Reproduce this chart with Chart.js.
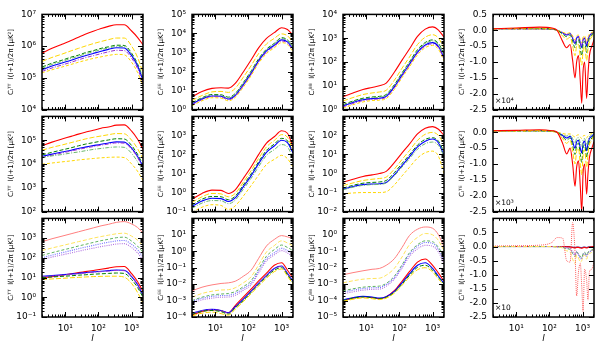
<!DOCTYPE html>
<html>
<head>
<meta charset="utf-8">
<script src="https://cdn.jsdelivr.net/npm/chart.js@4.4.0/dist/chart.umd.min.js"></script>
<style>
  body { margin: 0; background: #fff; width: 600px; height: 350px; overflow: hidden; position: relative; }
  canvas { position: absolute; }
</style>
</head>
<body>
<script>
// multipoles
const ell = [2, 4, 8, 15, 25, 40, 70, 120, 200, 350, 600, 1000, 1500, 2200];
const ellTE = [2, 10, 50, 120, 170, 250, 330, 420, 500, 590, 660, 750, 850, 940, 1030, 1150, 1320, 1450, 1600, 1900, 2200];

// row 1
const tt1Red = [6.0e5, 8.5e5, 1.15e6, 1.5e6, 1.9e6, 2.35e6, 2.95e6, 3.6e6, 4.2e6, 4.7e6, 4.7e6, 3.0e6, 1.9e6, 1.1e6];
const tt1Gold = [3.3e5, 4.4e5, 5.6e5, 7.1e5, 8.5e5, 1.0e6, 1.2e6, 1.4e6, 1.6e6, 1.8e6, 1.8e6, 1.0e6, 4.5e5, 1.45e5];
const tt1Green = [2.2e5, 2.9e5, 3.6e5, 4.5e5, 5.2e5, 6.2e5, 7.2e5, 8.5e5, 9.5e5, 1.07e6, 1.05e6, 6.0e5, 2.8e5, 1.0e5];
const tt1LGreen = [2.0e5, 2.65e5, 3.3e5, 4.1e5, 4.8e5, 5.7e5, 6.6e5, 7.8e5, 8.7e5, 9.8e5, 9.6e5, 5.5e5, 2.6e5, 9.5e4];
const tt1Blue = [1.8e5, 2.35e5, 2.95e5, 3.6e5, 4.3e5, 5.0e5, 5.9e5, 6.9e5, 7.9e5, 8.9e5, 8.7e5, 5.0e5, 2.4e5, 8.3e4];
const tt1Purple = [1.6e5, 2.05e5, 2.55e5, 3.1e5, 3.7e5, 4.3e5, 5.0e5, 5.8e5, 6.6e5, 7.4e5, 7.2e5, 4.2e5, 2.0e5, 7.0e4];
const tt1Gold2 = [1.45e5, 1.8e5, 2.2e5, 2.65e5, 3.1e5, 3.55e5, 4.1e5, 4.6e5, 5.1e5, 5.5e5, 5.3e5, 3.1e5, 1.5e5, 5.6e4];

const ee1Red = [4.7, 9, 13, 14, 13.5, 24, 95, 400, 1700, 5500, 1.1e4, 2e4, 1.6e4, 8e3];
const ee1Gold = [3.0, 5.5, 8.5, 9, 8, 13, 50, 200, 850, 2800, 5500, 9.5e3, 7.5e3, 3.5e3];
const ee1Green = [2.3, 4.2, 6.2, 6.0, 4.5, 7, 26, 105, 450, 1500, 3000, 6000, 4600, 2000];
const ee1LGreen = [2.1, 3.9, 5.7, 5.5, 4.1, 6.4, 24, 95, 410, 1350, 2700, 5400, 4100, 1800];
const ee1Blue = [2.0, 3.6, 5.2, 5.0, 3.6, 5.5, 20, 80, 350, 1200, 2400, 4600, 3600, 1500];
const ee1Purple = [1.8, 3.3, 4.8, 4.6, 3.3, 5, 18, 70, 310, 1050, 2100, 4000, 3100, 1300];
const ee1Gold2 = [1.6, 2.9, 4.2, 4.0, 2.9, 4.4, 15, 60, 260, 880, 1750, 3300, 2600, 1100];

const bb1Red = [3.5, 5, 7, 8.5, 10, 13, 37, 120, 350, 1200, 2400, 3000, 2200, 1100];
const bb1Gold = [2.3, 3.2, 4.3, 5, 5.5, 6.5, 17, 55, 160, 540, 1100, 1400, 1000, 380];
const bb1Green = [1.6, 2.3, 3.0, 3.4, 3.6, 4.3, 11, 35, 100, 330, 660, 850, 600, 220];
const bb1LGreen = [1.5, 2.15, 2.8, 3.15, 3.3, 4.0, 10, 32, 92, 300, 600, 770, 540, 190];
const bb1Blue = [1.4, 2.0, 2.6, 2.9, 3.0, 3.6, 9, 28, 80, 260, 520, 650, 450, 150];
const bb1Purple = [1.3, 1.8, 2.4, 2.7, 2.8, 3.3, 8, 25, 72, 235, 470, 580, 400, 130];
const bb1Gold2 = [1.15, 1.6, 2.1, 2.4, 2.5, 2.9, 7, 22, 62, 200, 400, 500, 340, 110];

const te1Red = [0.05, 0.07, 0.1, 0.07, 0.0, -0.35, -0.55, -0.45, -0.95, -1.5, -1.0, -0.8, -1.6, -2.3, -1.3, -1.0, -2.15, -1.4, -0.8, -0.5, -0.3];
const te1Gold = [0.05, 0.06, 0.07, 0.05, 0.0, -0.18, -0.28, -0.22, -0.5, -0.8, -0.5, -0.45, -0.85, -1.1, -0.65, -0.5, -0.95, -0.6, -0.35, -0.2, -0.07];
const te1Green = [0.05, 0.05, 0.05, 0.04, 0.0, -0.12, -0.2, -0.15, -0.35, -0.55, -0.35, -0.3, -0.6, -0.8, -0.45, -0.35, -0.7, -0.45, -0.25, -0.15, -0.05];
const te1Blue = [0.05, 0.05, 0.05, 0.04, 0.0, -0.08, -0.15, -0.1, -0.25, -0.42, -0.25, -0.2, -0.4, -0.55, -0.3, -0.25, -0.5, -0.3, -0.18, -0.1, -0.05];
const te1Purple = [0.04, 0.04, 0.04, 0.03, 0.0, -0.07, -0.13, -0.09, -0.22, -0.38, -0.22, -0.18, -0.36, -0.5, -0.27, -0.22, -0.45, -0.27, -0.16, -0.09, -0.04];
const te1Gold2 = [0.04, 0.04, 0.04, 0.03, 0.0, -0.06, -0.1, -0.08, -0.18, -0.3, -0.18, -0.15, -0.3, -0.4, -0.22, -0.18, -0.35, -0.22, -0.12, -0.07, -0.03];

// row 2
const tt2Red = [5.9e4, 8.3e4, 1.12e5, 1.45e5, 1.8e5, 2.15e5, 2.6e5, 3.2e5, 3.6e5, 4.3e5, 4.4e5, 2.4e5, 1.12e5, 4.2e4];
const tt2Gold = [3.8e4, 5.0e4, 6.3e4, 7.9e4, 9.5e4, 1.12e5, 1.32e5, 1.5e5, 1.7e5, 1.9e5, 1.86e5, 1.0e5, 4.5e4, 1.66e4];
const tt2Green = [2.4e4, 3.1e4, 3.9e4, 4.8e4, 5.8e4, 6.8e4, 7.9e4, 9.1e4, 1.02e5, 1.15e5, 1.12e5, 6.0e4, 2.6e4, 9.1e3];
const tt2Blue = [2.1e4, 2.6e4, 3.2e4, 3.8e4, 4.5e4, 5.1e4, 5.9e4, 6.8e4, 7.6e4, 8.5e4, 8.3e4, 4.6e4, 2.1e4, 7.9e3];
const tt2Purple = [1.9e4, 2.35e4, 2.9e4, 3.5e4, 4.1e4, 4.7e4, 5.4e4, 6.2e4, 6.9e4, 7.7e4, 7.5e4, 4.2e4, 1.9e4, 7.0e3];
const tt2LGreen = [1.9e4, 2.2e4, 2.5e4, 2.9e4, 3.2e4, 3.6e4, 4.1e4, 4.5e4, 4.9e4, 5.2e4, 5.0e4, 2.8e4, 1.26e4, 5.0e3];
const tt2Gold2 = [9.8e3, 1.1e4, 1.23e4, 1.35e4, 1.48e4, 1.58e4, 1.7e4, 1.82e4, 1.9e4, 1.95e4, 1.86e4, 1.0e4, 5.0e3, 2.0e3];

const ee2Red = [0.44, 0.9, 1.35, 1.3, 0.9, 1.4, 5.5, 22, 95, 400, 850, 1750, 1300, 250];
const ee2Gold = [0.3, 0.6, 0.9, 0.85, 0.6, 0.9, 3.5, 14, 60, 250, 540, 1100, 800, 160];
const ee2Green = [0.22, 0.45, 0.62, 0.6, 0.42, 0.65, 2.5, 9.5, 40, 165, 350, 700, 520, 130];
const ee2Blue = [0.19, 0.36, 0.5, 0.48, 0.34, 0.52, 2, 7.5, 32, 130, 280, 560, 420, 120];
const ee2LGreen = [0.15, 0.28, 0.38, 0.37, 0.26, 0.4, 1.5, 5.5, 22, 90, 180, 330, 250, 70];
const ee2Gold2 = [0.09, 0.17, 0.23, 0.21, 0.13, 0.2, 0.65, 2.3, 8, 30, 55, 90, 60, 22];

const bb2Red = [0.35, 0.5, 0.7, 0.85, 1.0, 1.3, 3.7, 12, 35, 120, 240, 290, 210, 100];
const bb2Gold = [0.23, 0.32, 0.43, 0.5, 0.55, 0.65, 1.7, 5.5, 16, 55, 115, 145, 100, 35];
const bb2Green = [0.17, 0.24, 0.31, 0.34, 0.36, 0.43, 1.1, 3.4, 9.5, 31, 62, 76, 50, 14];
const bb2Blue = [0.15, 0.21, 0.26, 0.28, 0.29, 0.34, 0.85, 2.6, 7.5, 25, 50, 65, 40, 9];
const bb2LGreen = [0.14, 0.19, 0.24, 0.26, 0.27, 0.32, 0.75, 2.2, 6, 19, 37, 45, 30, 8];
const bb2Gold2 = [0.087, 0.095, 0.1, 0.1, 0.1, 0.11, 0.25, 0.75, 2.1, 6.5, 12.5, 15, 8, 1.0];

const te2Red = [0.05, 0.06, 0.08, 0.05, 0.0, -0.35, -0.68, -0.5, -1.0, -1.7, -1.1, -0.9, -1.7, -2.5, -1.3, -1.0, -1.95, -1.3, -0.8, -0.5, -0.3];
const te2Gold = [0.05, 0.05, 0.06, 0.04, 0.0, -0.2, -0.35, -0.25, -0.6, -1.0, -0.6, -0.5, -1.0, -1.35, -0.75, -0.55, -1.1, -0.7, -0.4, -0.25, -0.1];
const te2Green = [0.05, 0.05, 0.05, 0.04, 0.0, -0.14, -0.25, -0.18, -0.42, -0.7, -0.42, -0.35, -0.7, -0.95, -0.5, -0.4, -0.8, -0.5, -0.3, -0.18, -0.07];
const te2Blue = [0.05, 0.05, 0.05, 0.04, 0.0, -0.1, -0.18, -0.13, -0.3, -0.5, -0.3, -0.25, -0.5, -0.65, -0.35, -0.28, -0.58, -0.35, -0.2, -0.12, -0.05];
const te2LGreen = [0.04, 0.04, 0.04, 0.03, 0.0, -0.07, -0.12, -0.09, -0.2, -0.34, -0.2, -0.17, -0.34, -0.45, -0.25, -0.2, -0.4, -0.25, -0.14, -0.08, -0.03];
const te2Gold2 = [0.03, 0.03, 0.03, 0.02, 0.0, -0.04, -0.06, -0.05, -0.1, -0.15, -0.1, -0.08, -0.15, -0.2, -0.12, -0.1, -0.18, -0.12, -0.07, -0.04, -0.02];

// row 3 (upper, lighter group and lower group)
const tt3Pink = [660, 930, 1260, 1660, 2090, 2570, 3300, 4200, 5000, 6300, 6900, 5200, 3500, 1800];
const tt3LGold = [235, 316, 417, 537, 661, 794, 1000, 1200, 1410, 1660, 1780, 1260, 794, 407];
const tt3LGreen = [132, 182, 245, 316, 398, 479, 603, 741, 871, 1050, 1120, 708, 398, 191];
const tt3LBlue = [100, 138, 182, 234, 288, 347, 427, 525, 617, 724, 759, 479, 263, 110];
const tt3LPurple = [81, 110, 141, 178, 214, 257, 309, 372, 427, 501, 525, 331, 182, 76];
const tt3Red = [9.5, 11.2, 13.2, 15.5, 17.8, 20, 23, 26.3, 30.2, 35.5, 36.3, 15.8, 6.3, 2.0];
const tt3Blue = [11.5, 12.6, 13.8, 15.1, 16.6, 17.8, 19.5, 20.9, 22.4, 24, 23.4, 11.2, 4.5, 1.26];
const tt3Purple = [11, 12, 13.2, 14.5, 15.8, 17, 18.6, 20, 21.4, 23, 22.4, 10.7, 4.3, 1.2];
const tt3Green = [10, 10.7, 11.5, 12.3, 13.2, 13.8, 14.8, 15.5, 16.2, 17, 16.2, 7.9, 3.2, 1.0];
const tt3Gold = [7.9, 8.5, 9.1, 9.8, 10.2, 10.7, 11.2, 11.5, 11.7, 11.7, 10.5, 5.0, 1.8, 0.5];

const ee3Pink = [3.9e-3, 6.5e-3, 9e-3, 1.1e-2, 1.2e-2, 1.5e-2, 3e-2, 7e-2, 0.35, 2.1, 5.2, 9, 7.5, 6];
const ee3LGold = [1.6e-3, 2.7e-3, 3.7e-3, 4.4e-3, 4.6e-3, 6e-3, 1.2e-2, 2.8e-2, 0.14, 0.9, 2.2, 4.3, 3.2, 2.1];
const ee3LGreen = [1e-3, 1.6e-3, 2.2e-3, 2.5e-3, 2.7e-3, 3.5e-3, 7e-3, 1.6e-2, 0.08, 0.5, 1.25, 2.4, 1.7, 1.1];
const ee3LBlue = [9e-4, 1.35e-3, 1.8e-3, 2.0e-3, 2.1e-3, 2.7e-3, 5.5e-3, 1.2e-2, 0.06, 0.35, 0.8, 1.5, 1.1, 0.7];
const ee3LPurple = [7e-4, 1.1e-3, 1.4e-3, 1.6e-3, 1.65e-3, 2.1e-3, 4.2e-3, 9e-3, 0.045, 0.26, 0.6, 1.1, 0.8, 0.45];
const ee3Red = [1.3e-4, 2.2e-4, 2.8e-4, 2.4e-4, 1.8e-4, 5e-4, 1.6e-3, 5e-3, 1.5e-2, 4.7e-2, 0.14, 0.2, 0.07, 0.023];
const ee3Blue = [1.65e-4, 2.5e-4, 2.9e-4, 2.5e-4, 1.8e-4, 4.2e-4, 1.2e-3, 3.7e-3, 1.1e-2, 3.4e-2, 0.09, 0.126, 0.045, 0.015];
const ee3Purple = [1.6e-4, 2.4e-4, 2.8e-4, 2.4e-4, 1.7e-4, 4e-4, 1.15e-3, 3.5e-3, 1.05e-2, 3.2e-2, 0.085, 0.12, 0.043, 0.014];
const ee3Green = [1.45e-4, 2.2e-4, 2.5e-4, 2.1e-4, 1.5e-4, 3.6e-4, 1.0e-3, 3.1e-3, 9e-3, 2.8e-2, 0.07, 0.1, 0.037, 0.012];
const ee3Gold = [1.15e-4, 1.7e-4, 2.0e-4, 1.6e-4, 1.3e-4, 3e-4, 8.5e-4, 2.6e-3, 7.5e-3, 2.3e-2, 0.057, 0.083, 0.03, 0.01];

const bb3Pink = [3.7e-3, 5e-3, 6.5e-3, 8e-3, 9e-3, 1.4e-2, 3.5e-2, 0.17, 0.9, 2.2, 3, 2.5, 1.0, 0.18];
const bb3LGold = [1.2e-3, 1.6e-3, 2.0e-3, 2.2e-3, 2.3e-3, 3.5e-3, 9e-3, 4.5e-2, 0.25, 0.7, 1.2, 1.0, 0.45, 0.11];
const bb3LGreen = [3.9e-4, 5.2e-4, 6.5e-4, 7.2e-4, 7.6e-4, 1.1e-3, 3e-3, 1.5e-2, 8e-2, 0.25, 0.43, 0.38, 0.17, 0.045];
const bb3LBlue = [3.2e-4, 4.3e-4, 5.4e-4, 6e-4, 6.3e-4, 9.5e-4, 2.5e-3, 1.2e-2, 6.5e-2, 0.2, 0.34, 0.3, 0.13, 0.028];
const bb3LPurple = [2.5e-4, 3.4e-4, 4.3e-4, 4.8e-4, 5e-4, 7.5e-4, 2e-3, 9.5e-3, 4.8e-2, 0.14, 0.23, 0.2, 0.09, 0.018];
const bb3Red = [1e-4, 1.4e-4, 1.7e-4, 1.55e-4, 1.3e-4, 1.7e-4, 4e-4, 1.5e-3, 5.7e-3, 2.2e-2, 3.4e-2, 1.4e-2, 4.7e-3, 1.5e-3];
const bb3Blue = [1.1e-4, 1.5e-4, 1.8e-4, 1.65e-4, 1.4e-4, 1.7e-4, 3.6e-4, 1.2e-3, 4.2e-3, 1.4e-2, 2e-2, 9e-3, 3e-3, 1.1e-3];
const bb3Green = [1.0e-4, 1.4e-4, 1.65e-4, 1.5e-4, 1.3e-4, 1.55e-4, 3.2e-4, 1.0e-3, 3.4e-3, 1.05e-2, 1.4e-2, 7e-3, 2.5e-3, 1.0e-3];
const bb3Gold = [9e-5, 1.2e-4, 1.45e-4, 1.3e-4, 1.15e-4, 1.4e-4, 2.8e-4, 8.5e-4, 2.7e-3, 7.5e-3, 1e-2, 5.5e-3, 2e-3, 9e-4];

const te3Pink = [0.02, 0.03, 0.05, 0.15, 0.32, 0.3, -0.5, -0.55, 0.85, -0.2, -1.75, -0.9, -0.6, -1.4, -2.3, -0.8, -1.2, -1.9, -0.9, -0.8, -0.55];
const te3LGold = [0.0, 0.0, 0.0, 0.0, -0.02, -0.05, -0.15, -0.2, -0.45, -0.6, -0.3, -0.4, -0.55, -0.5, -0.35, -0.3, -0.45, -0.3, -0.25, -0.2, -0.1];
const te3LGreen = [0, 0, 0, 0, -0.01, -0.03, -0.08, -0.1, -0.25, -0.35, -0.2, -0.25, -0.35, -0.4, -0.25, -0.2, -0.3, -0.2, -0.15, -0.12, -0.05];
const te3LBlue = [0, 0, 0, 0, -0.01, -0.02, -0.05, -0.08, -0.2, -0.3, -0.18, -0.3, -0.4, -0.45, -0.3, -0.25, -0.35, -0.25, -0.2, -0.15, -0.08];
const te3LPurple = [0, 0, 0, 0, -0.01, -0.02, -0.05, -0.07, -0.18, -0.28, -0.17, -0.28, -0.38, -0.42, -0.28, -0.23, -0.32, -0.23, -0.18, -0.14, -0.07];
const te3Red = [0, 0, 0, 0, 0, 0, -0.01, -0.01, -0.03, -0.05, -0.03, -0.03, -0.05, -0.06, -0.04, -0.03, -0.05, -0.03, -0.02, -0.01, 0];
const te3Navy = [0, 0, 0, 0, 0, 0, 0, -0.01, -0.02, -0.03, -0.02, -0.02, -0.03, -0.04, -0.02, -0.02, -0.03, -0.02, -0.01, -0.01, 0];

const yTitles = ['Cₗᵀᵀ  l(l+1)/2π [μK²]', 'Cₗᴱᴱ  l(l+1)/2π [μK²]', 'Cₗᴮᴮ  l(l+1)/2π [μK²]', 'Cₗᵀᴱ  l(l+1)/2π [μK²]'];
const teNotes = ['×10⁴', '×10³', '×10'];

const styles = {
  red:     { c: '#ff0000', d: [], w: 1.1 },
  gold:    { c: '#ffd700', d: [5, 2], w: 1 },
  green:   { c: '#008000', d: [4, 2], w: 1 },
  lgreen:  { c: '#6cb86c', d: [4, 1.5, 1, 1.5], w: 1 },
  blue:    { c: '#0000ff', d: [], w: 1.1 },
  purple:  { c: '#9a32cd', d: [4, 1.5, 1, 1.5], w: 1 },
  gold2:   { c: '#ffd700', d: [3, 2], w: 1 },
  pink:    { c: '#ff7f7f', d: [], w: 1 },
  pinkDot: { c: '#ff6060', d: [1, 1], w: 1 },
  lgold:   { c: '#ffe45c', d: [4, 2], w: 1 },
  lgreen2: { c: '#5fb35f', d: [3, 2], w: 1 },
  lblue:   { c: '#6f6fff', d: [1, 1.2], w: 1.1 },
  lpurple: { c: '#b070e0', d: [1, 1.2], w: 1.1 },
  navy:    { c: '#000080', d: [], w: 1 }
};

const panels = [
  { row: 0, col: 0, min: 1e4, max: 1e7, x: ell, s: [[tt1Gold2, 'gold2'], [tt1Purple, 'purple'], [tt1Blue, 'blue'], [tt1LGreen, 'lgreen'], [tt1Green, 'green'], [tt1Gold, 'gold'], [tt1Red, 'red']] },
  { row: 0, col: 1, min: 1e0, max: 1e5, x: ell, s: [[ee1Gold2, 'gold2'], [ee1Purple, 'purple'], [ee1Blue, 'blue'], [ee1LGreen, 'lgreen'], [ee1Green, 'green'], [ee1Gold, 'gold'], [ee1Red, 'red']] },
  { row: 0, col: 2, min: 1e0, max: 1e4, x: ell, s: [[bb1Gold2, 'gold2'], [bb1Purple, 'purple'], [bb1Blue, 'blue'], [bb1LGreen, 'lgreen'], [bb1Green, 'green'], [bb1Gold, 'gold'], [bb1Red, 'red']] },
  { row: 0, col: 3, min: -2.5, max: 0.5, x: ellTE, s: [[te1Red, 'red'], [te1Gold, 'gold'], [te1Green, 'green'], [te1Gold2, 'gold2'], [te1Purple, 'purple'], [te1Blue, 'blue']] },
  { row: 1, col: 0, min: 1e2, max: 1e6, x: ell, s: [[tt2Gold2, 'gold2'], [tt2LGreen, 'lgreen'], [tt2Purple, 'purple'], [tt2Blue, 'blue'], [tt2Green, 'green'], [tt2Gold, 'gold'], [tt2Red, 'red']] },
  { row: 1, col: 1, min: 1e-1, max: 1e4, x: ell, s: [[ee2Gold2, 'gold2'], [ee2LGreen, 'lgreen'], [ee2Blue, 'blue'], [ee2Green, 'green'], [ee2Gold, 'gold'], [ee2Red, 'red']] },
  { row: 1, col: 2, min: 1e-2, max: 1e3, x: ell, s: [[bb2Gold2, 'gold2'], [bb2LGreen, 'lgreen'], [bb2Blue, 'blue'], [bb2Green, 'green'], [bb2Gold, 'gold'], [bb2Red, 'red']] },
  { row: 1, col: 3, min: -2.5, max: 0.5, x: ellTE, s: [[te2Red, 'red'], [te2Gold, 'gold'], [te2Green, 'green'], [te2LGreen, 'lgreen'], [te2Gold2, 'gold2'], [te2Blue, 'blue']] },
  { row: 2, col: 0, min: 1e-1, max: 1e4, x: ell, s: [[tt3LPurple, 'lpurple'], [tt3LBlue, 'lblue'], [tt3LGreen, 'lgreen2'], [tt3LGold, 'lgold'], [tt3Pink, 'pink'], [tt3Gold, 'gold'], [tt3Green, 'green'], [tt3Purple, 'purple'], [tt3Blue, 'blue'], [tt3Red, 'red']] },
  { row: 2, col: 1, min: 1e-4, max: 1e2, x: ell, s: [[ee3LPurple, 'lpurple'], [ee3LBlue, 'lblue'], [ee3LGreen, 'lgreen2'], [ee3LGold, 'lgold'], [ee3Pink, 'pink'], [ee3Gold, 'gold'], [ee3Green, 'green'], [ee3Purple, 'purple'], [ee3Blue, 'blue'], [ee3Red, 'red']] },
  { row: 2, col: 2, min: 1e-5, max: 1e1, x: ell, s: [[bb3LPurple, 'lpurple'], [bb3LBlue, 'lblue'], [bb3LGreen, 'lgreen2'], [bb3LGold, 'lgold'], [bb3Pink, 'pink'], [bb3Gold, 'gold'], [bb3Green, 'green'], [bb3Blue, 'blue'], [bb3Red, 'red']] },
  { row: 2, col: 3, min: -2.5, max: 1.0, x: ellTE, s: [[te3Pink, 'pinkDot'], [te3LGold, 'lgold'], [te3LGreen, 'lgreen2'], [te3LPurple, 'lpurple'], [te3LBlue, 'lblue'], [te3Red, 'red'], [te3Navy, 'navy']] }
];

const colX = [42, 192, 343, 493];
const rowY = [11, 113, 215];
const PW = 101, PH = 102;
const FONT = 'DejaVu Sans';

function sup(n) {
  const m = { '-': '⁻', '0': '⁰', '1': '¹', '2': '²', '3': '³', '4': '⁴', '5': '⁵', '6': '⁶', '7': '⁷', '8': '⁸', '9': '⁹' };
  return String(n).split('').map(c => m[c]).join('');
}

function decades(lo, hi) {
  const out = [];
  for (let e = Math.round(Math.log10(lo)); e <= Math.round(Math.log10(hi)); e++) out.push(Math.pow(10, e));
  return out;
}

function logMarks(lo, hi) {
  const out = [];
  for (let e = Math.floor(Math.log10(lo)); e <= Math.ceil(Math.log10(hi)); e++) {
    for (let m = 1; m < 10; m++) {
      const v = m * Math.pow(10, e);
      if (v >= lo * 0.999 && v <= hi * 1.001) out.push([v, m === 1 ? 5 : 2.5]);
    }
  }
  return out;
}

// matplotlib-like frame with inward ticks on all four sides
const frame = {
  id: 'frame',
  afterDatasetsDraw(chart, args, opts) {
    const { ctx, chartArea: a } = chart;
    const sx = chart.scales.x, sy = chart.scales.y;
    ctx.save();
    ctx.strokeStyle = '#000';
    ctx.lineWidth = 1;
    ctx.beginPath();
    for (const [v, len] of logMarks(sx.min, sx.max)) {
      const px = Math.round(sx.getPixelForValue(v)) + 0.5;
      ctx.moveTo(px, a.bottom); ctx.lineTo(px, a.bottom - len);
      ctx.moveTo(px, a.top); ctx.lineTo(px, a.top + len);
    }
    let ym = [];
    if (sy.type === 'logarithmic') ym = logMarks(sy.min, sy.max);
    else for (let v = sy.min; v <= sy.max + 1e-9; v += 0.5) ym.push([v, 5]);
    for (const [v, len] of ym) {
      const py = Math.round(sy.getPixelForValue(v)) + 0.5;
      ctx.moveTo(a.left, py); ctx.lineTo(a.left + len, py);
      ctx.moveTo(a.right, py); ctx.lineTo(a.right - len, py);
    }
    ctx.stroke();
    ctx.lineWidth = 1.5;
    ctx.strokeRect(a.left, a.top, a.right - a.left, a.bottom - a.top);
    if (opts.note) {
      ctx.fillStyle = '#000';
      ctx.font = '7.5px "' + FONT + '"';
      ctx.textBaseline = 'alphabetic';
      ctx.textAlign = 'left';
      ctx.fillText(opts.note, a.left + 2, a.bottom - 7);
    }
    ctx.restore();
  }
};

panels.forEach(p => {
  const L = 42, T = 8, R = 4;
  const bottomRow = p.row === 2;
  const B = bottomRow ? 28 : 8;
  const isTE = p.col === 3;
  const cv = document.createElement('canvas');
  cv.width = L + PW + R;
  cv.height = T + PH + B;
  cv.style.left = (colX[p.col] - L) + 'px';
  cv.style.top = (rowY[p.row] - T) + 'px';
  document.body.appendChild(cv);

  const yScale = isTE ? {
    type: 'linear', min: p.min, max: p.max,
    afterBuildTicks: s => {
      const t = [];
      for (let k = 0; p.min + k * 0.5 <= p.max + 1e-9; k++) t.push({ value: p.min + k * 0.5 });
      s.ticks = t;
    },
    ticks: {
      autoSkip: false, padding: 6, color: '#000', font: { size: 9, family: FONT },
      callback: v => (p.row > 0 && Math.abs(v - p.max) < 1e-9) ? '' : (Math.abs(v) < 1e-9 ? '0.0' : v.toFixed(1))
    }
  } : {
    type: 'logarithmic', min: p.min, max: p.max,
    afterBuildTicks: s => { s.ticks = decades(p.min, p.max).map(v => ({ value: v })); },
    ticks: {
      autoSkip: false, padding: 6, color: '#000', font: { size: 9, family: FONT },
      callback: v => (p.row > 0 && Math.abs(v / p.max - 1) < 1e-6) ? '' : '10' + sup(Math.round(Math.log10(v)))
    }
  };
  Object.assign(yScale, {
    grid: { display: false, drawTicks: false },
    border: { display: false },
    title: { display: true, text: yTitles[p.col], color: '#000', font: { size: 7, family: FONT }, padding: { top: 7, bottom: 0 } },
    afterFit: s => { s.width = L; }
  });

  const xScale = {
    type: 'logarithmic', min: 2, max: 2200, display: bottomRow,
    grid: { display: false, drawTicks: false },
    border: { display: false },
    afterBuildTicks: s => { s.ticks = [10, 100, 1000].map(v => ({ value: v })); },
    ticks: {
      autoSkip: false, maxRotation: 0, padding: 6, color: '#000', font: { size: 9, family: FONT },
      callback: v => '10' + sup(Math.round(Math.log10(v)))
    },
    title: { display: true, text: 'l', color: '#000', font: { size: 9, family: FONT, style: 'italic' }, padding: { top: 0, bottom: 1 } }
  };
  if (bottomRow) xScale.afterFit = s => { s.height = B; };

  new Chart(cv, {
    type: 'line',
    data: {
      datasets: p.s.map(([vals, st]) => ({
        data: vals.map((v, i) => ({ x: p.x[i], y: v })),
        borderColor: styles[st].c,
        borderDash: styles[st].d,
        borderWidth: styles[st].w,
        pointRadius: 0,
        fill: false,
        cubicInterpolationMode: 'monotone'
      }))
    },
    options: {
      responsive: false,
      animation: false,
      events: [],
      layout: { padding: { left: 0, top: T, right: R, bottom: bottomRow ? 0 : B } },
      plugins: {
        legend: { display: false },
        tooltip: { enabled: false },
        frame: { note: isTE ? teNotes[p.row] : null }
      },
      scales: { x: xScale, y: yScale }
    },
    plugins: [frame]
  });
});
</script>
</body>
</html>
